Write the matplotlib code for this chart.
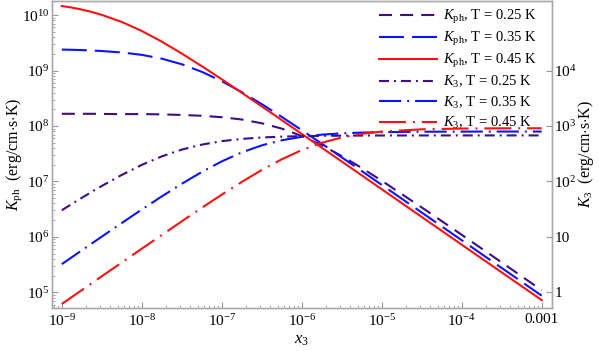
import matplotlib
matplotlib.use('agg')
import matplotlib.pyplot as plt
from matplotlib.ticker import FixedLocator, LogLocator, NullFormatter, NullLocator
import numpy as np

plt.rcParams['font.family'] = ['Liberation Serif', 'DejaVu Serif']
plt.rcParams['mathtext.fontset'] = 'custom'
plt.rcParams['mathtext.rm'] = 'Liberation Serif'
plt.rcParams['mathtext.it'] = 'Liberation Serif:italic'
plt.rcParams['lines.scale_dashes'] = False

# x3 values
x3 = [1e-9, 10**-8.875, 10**-8.75, 10**-8.625, 10**-8.5, 10**-8.25, 1e-8, 10**-7.75, 10**-7.5, 10**-7.25,
      1e-7, 10**-6.75, 10**-6.5, 10**-6.25, 1e-6, 10**-5.75, 10**-5.5, 10**-5.25,
      1e-5, 10**-4.5, 1e-4, 10**-3.5, 1e-3]

# K_ph (erg/cm s K), left axis
kph_025 = [1.66e8, 1.66e8, 1.66e8, 1.66e8, 1.65e8, 1.64e8, 1.64e8, 1.62e8, 1.58e8, 1.53e8,
           1.44e8, 1.31e8, 1.12e8, 8.97e7, 6.6e7, 4.5e7, 2.87e7, 1.75e7,
           1.03e7, 3.40e6, 1.09e6, 3.46e5, 1.09e5]
kph_035 = [2.39e9, 2.37e9, 2.34e9, 2.30e9, 2.25e9, 2.12e9, 1.92e9, 1.64e9, 1.30e9, 9.5e8,
           6.43e8, 4.08e8, 2.48e8, 1.46e8, 8.41e7, 4.81e7, 2.72e7, 1.54e7,
           8.68e6, 2.75e6, 8.7e5, 2.75e5, 8.7e4]
kph_045 = [1.46e10, 1.37e10, 1.26e10, 1.14e10, 1.01e10, 7.54e9, 5.18e9, 3.33e9, 2.03e9, 1.20e9,
           6.97e8, 3.98e8, 2.26e8, 1.28e8, 7.21e7, 4.06e7, 2.29e7, 1.29e7,
           7.24e6, 2.29e6, 7.24e5, 2.29e5, 7.24e4]

# K_3 (erg/cm s K), right axis
k3_025 = [30.2, 39.2, 50.6, 65.0, 82.8, 131, 199, 283, 375, 461,
          533, 585, 620, 643, 656, 664, 669, 672,
          674, 675, 676, 676, 676]
k3_035 = [3.22, 4.29, 5.71, 7.60, 10.1, 17.8, 31.1, 53.7, 90.7, 148,
          230, 334, 447, 553, 638, 698, 737, 761,
          775, 788, 792, 794, 794]
k3_045 = [0.616, 0.821, 1.095, 1.46, 1.95, 3.45, 6.12, 10.8, 19.1, 33.4,
          57.8, 97.9, 161, 251, 368, 498, 621, 722,
          794, 871, 899, 908, 911]

xticks = [1e-9, 1e-8, 1e-7, 1e-6, 1e-5, 1e-4, 1e-3]
xticklabels = ['$10^{-9}$', '$10^{-8}$', '$10^{-7}$', '$10^{-6}$', '$10^{-5}$', '$10^{-4}$', '0.001']
yticks = [1e5, 1e6, 1e7, 1e8, 1e9, 1e10]
yticklabels = ['$10^{5}$', '$10^{6}$', '$10^{7}$', '$10^{8}$', '$10^{9}$', '$10^{10}$']
y2ticks = [1, 10, 100, 1000, 10000]
y2ticklabels = ['1', '10', '$10^{2}$', '$10^{3}$', '$10^{4}$']

purple = '#3f0c8c'
blue = '#0a14ff'
red = '#ff1010'
lw = 1.5

fig = plt.figure(figsize=(5.99, 3.51), dpi=100)
ax = fig.add_axes([0.087, 0.123, 0.834, 0.875])
ax2 = ax.twinx()

l1, = ax.plot(x3, kph_025, color=purple, lw=lw, dashes=(9.4, 5.8))
l2, = ax.plot(x3, kph_035, color=blue, lw=lw, dashes=(18, 5.8))
l3, = ax.plot(x3, kph_045, color=red, lw=lw)
l4, = ax2.plot(x3, k3_025, color=purple, lw=lw, dashes=(7.2, 3.6, 1.4, 3.6))
l5, = ax2.plot(x3, k3_035, color=blue, lw=lw, dashes=(16, 4.3, 1.4, 4.3))
l6, = ax2.plot(x3, k3_045, color=red, lw=lw, dashes=(19.4, 5, 1.4, 5))

ax.set_xscale('log')
ax.set_yscale('log')
ax2.set_yscale('log')
ax.set_xlim(10**-9.121, 10**-2.875)
ax.set_ylim(10**4.72, 10**10.26)
ax2.set_ylim(10**-0.28, 10**5.26)

ax.xaxis.set_major_locator(FixedLocator(xticks))
ax.set_xticklabels(xticklabels)
ax.xaxis.set_minor_locator(LogLocator(base=10, subs=np.arange(2, 10), numticks=20))
ax.xaxis.set_minor_formatter(NullFormatter())
ax.yaxis.set_major_locator(FixedLocator(yticks))
ax.set_yticklabels(yticklabels)
ax.yaxis.set_minor_locator(LogLocator(base=10, subs=np.arange(2, 10), numticks=20))
ax.yaxis.set_minor_formatter(NullFormatter())
ax2.yaxis.set_major_locator(FixedLocator(y2ticks))
ax2.set_yticklabels(y2ticklabels)
ax2.yaxis.set_minor_locator(NullLocator())

for a in (ax, ax2):
    a.tick_params(which='both', direction='in', labelsize=11, colors='#999999', labelcolor='black')
    a.tick_params(which='major', length=4, width=0.8)
    a.tick_params(which='minor', length=2, width=0.6)
    for s in a.spines.values():
        s.set_color('#aaaaaa')
        s.set_linewidth(1.0)
ax.tick_params(axis='x', pad=4)
ax.tick_params(axis='y', pad=2)
ax2.tick_params(axis='y', pad=2)

ax.set_xlabel('$x_3$', fontsize=12, labelpad=2)
ax.set_ylabel('$K_{\\rm ph}$  (erg/cm$\\cdot$s$\\cdot$K)', fontsize=11.5)
ax.yaxis.set_label_coords(-0.056, 0.5)
ax2.set_ylabel('$K_3$  (erg/cm$\\cdot$s$\\cdot$K)', fontsize=11.5)
ax2.yaxis.set_label_coords(1.049, 0.5)

labels = ['$K_{\\rm ph}$, T = 0.25 K', '$K_{\\rm ph}$, T = 0.35 K', '$K_{\\rm ph}$, T = 0.45 K',
          '$K_3$, T = 0.25 K', '$K_3$, T = 0.35 K', '$K_3$, T = 0.45 K']
ax2.legend([l1, l2, l3, l4, l5, l6], labels, loc='upper right', frameon=False,
           fontsize=10.5, handlelength=4.0, handletextpad=0.4, labelspacing=0.28,
           borderaxespad=0.1, bbox_to_anchor=(0.985, 1.0))

fig.savefig('out.png', dpi=100)
